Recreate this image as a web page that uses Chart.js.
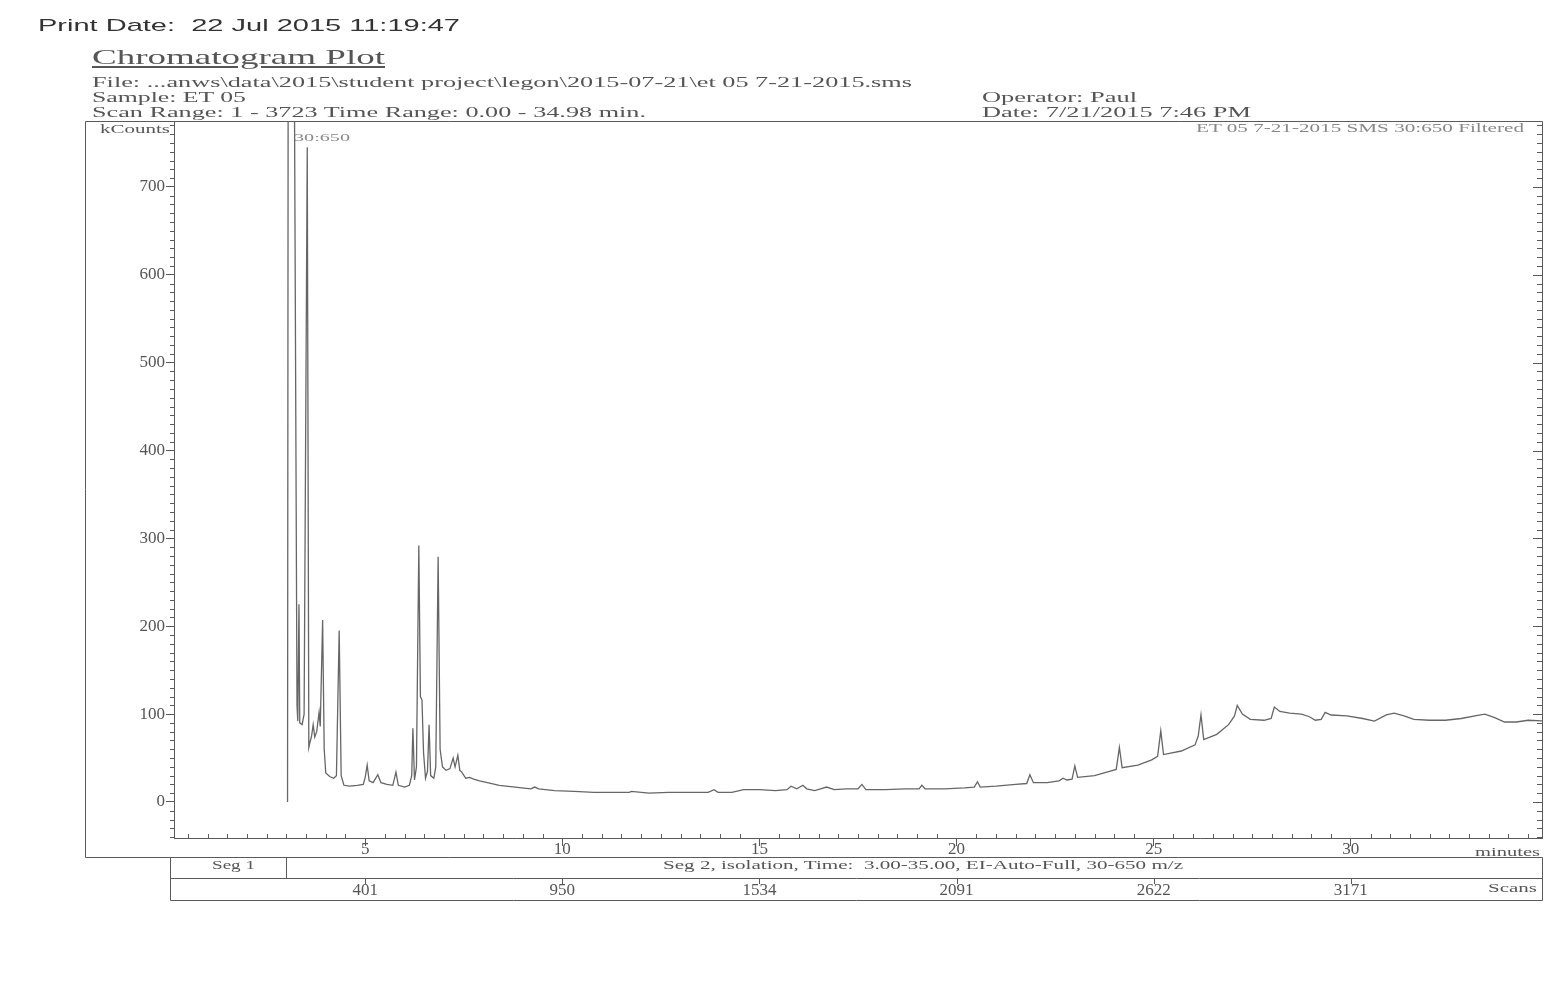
<!DOCTYPE html>
<html>
<head>
<meta charset="utf-8">
<title>Chromatogram Plot</title>
<script src="https://cdn.jsdelivr.net/npm/chart.js@4.4.1/dist/chart.umd.min.js"></script>
<style>
  html, body { margin: 0; padding: 0; background: #fff; }
  #wrap { position: relative; width: 1549px; height: 989px; overflow: hidden; }
  #chromCanvas { position: absolute; left: 0; top: 0; }
  .t { position: absolute; white-space: nowrap; line-height: 1; transform-origin: 0 50%;
       color: #555; font-family: 'Liberation Serif', 'Times New Roman', serif; }
</style>
</head>
<body>
<div id="wrap">
  <canvas id="chromCanvas" width="1549" height="989"></canvas>

  <div class="t" data-w="422" style="left:38px;top:17px;font-size:17px;color:#333;font-family:'Liberation Sans',Arial,sans-serif;">Print Date:&nbsp; 22 Jul 2015 11:19:47</div>
  <div class="t" data-w="293" style="left:92px;top:47px;font-size:21px;text-decoration:underline;">Chromatogram Plot</div>
  <div class="t" data-w="820" style="left:92px;top:75px;font-size:15px;">File: ...anws\data\2015\student project\legon\2015-07-21\et 05 7-21-2015.sms</div>
  <div class="t" data-w="154" style="left:92px;top:90px;font-size:15px;">Sample: ET 05</div>
  <div class="t" data-w="554" style="left:92px;top:105px;font-size:15px;">Scan Range: 1 - 3723 Time Range: 0.00 - 34.98 min.</div>
  <div class="t" data-w="155" style="left:982px;top:90px;font-size:15px;">Operator: Paul</div>
  <div class="t" data-w="269" style="left:982px;top:105px;font-size:15px;">Date: 7/21/2015 7:46 PM</div>

  <div class="t" data-w="328" style="left:1196px;top:122px;font-size:12px;color:#888;">ET 05 7-21-2015 SMS 30:650 Filtered</div>
  <div class="t" data-w="70" style="left:100px;top:123px;font-size:12px;">kCounts</div>
  <div class="t" data-w="56" style="left:294px;top:132px;font-size:11px;color:#888;">30:650</div>
  <div class="t" data-w="65" style="left:1475px;top:845px;font-size:13px;">minutes</div>
  <div class="t" data-w="43" style="left:212px;top:859px;font-size:12px;">Seg 1</div>
  <div class="t" data-w="520" style="left:663px;top:859px;font-size:12px;">Seg 2, isolation, Time:&nbsp; 3.00-35.00, EI-Auto-Full, 30-650 m/z</div>
  <div class="t" data-w="49" style="left:1488px;top:881px;font-size:13px;">Scans</div>
</div>

<script>
// Retention time (minutes) and signal (kCounts)
const retentionMin = [
  3.03, 3.06, 3.15, 3.27, 3.29, 3.32, 3.34, 3.40, 3.45, 3.53,
  3.57, 3.60, 3.64, 3.68, 3.72, 3.77, 3.83, 3.86, 3.92, 3.96,
  4.00, 4.10, 4.20, 4.27, 4.34, 4.39, 4.46, 4.60, 4.80, 4.95,
  5.00, 5.05, 5.10, 5.20, 5.32, 5.40, 5.55, 5.70, 5.78, 5.84,
  6.00, 6.12, 6.18, 6.21, 6.25, 6.30, 6.36, 6.40, 6.44, 6.48,
  6.53, 6.58, 6.62, 6.66, 6.74, 6.79, 6.85, 6.90, 6.96, 7.05,
  7.15, 7.23, 7.28, 7.35, 7.40, 7.45, 7.55, 7.65, 7.75, 7.90,
  8.10, 8.40, 8.80, 9.20, 9.30, 9.40, 9.80, 10.3, 10.8, 11.3,
  11.7, 11.75, 12.2, 12.7, 13.2, 13.7, 13.85, 13.95, 14.3, 14.6,
  15.0, 15.4, 15.7, 15.8, 15.95, 16.1, 16.2, 16.4, 16.55, 16.7,
  16.9, 17.2, 17.5, 17.6, 17.7, 18.2, 18.7, 19.05, 19.12, 19.2,
  19.7, 20.2, 20.45, 20.53, 20.6, 21.0, 21.5, 21.78, 21.86, 21.95,
  22.3, 22.6, 22.7, 22.8, 22.93, 23.0, 23.07, 23.5, 23.9, 24.05,
  24.13, 24.2, 24.6, 24.95, 25.1, 25.18, 25.25, 25.7, 26.05, 26.13,
  26.2, 26.27, 26.6, 26.9, 27.05, 27.12, 27.25, 27.45, 27.8, 27.98,
  28.06, 28.2, 28.45, 28.75, 28.95, 29.1, 29.25, 29.35, 29.5, 29.9,
  30.3, 30.6, 30.9, 31.1, 31.35, 31.6, 32.0, 32.4, 32.8, 33.15,
  33.4, 33.65, 33.9, 34.2, 34.5, 34.98
];
const kCounts = [
  0, 1600, 1400, 110, 92, 225, 90, 88, 100, 745,
  62, 68, 75, 88, 74, 80, 102, 86, 207, 60,
  33, 29, 27, 30, 195, 30, 19, 18, 19, 20,
  28, 42, 24, 22, 31, 22, 20, 19, 34, 19,
  17, 19, 30, 84, 25, 40, 292, 120, 116, 56,
  27, 35, 88, 30, 27, 40, 279, 60, 40, 36,
  38, 50, 40, 53, 36, 34, 27, 28, 26, 24,
  22, 19, 17, 15, 17, 15, 13, 12, 11, 11,
  11, 12, 10, 11, 11, 11, 14, 11, 11, 14,
  14, 13, 14, 18, 15, 19, 15, 13, 15, 17,
  14, 15, 15, 20, 14, 14, 15, 15, 19, 15,
  15, 16, 17, 23, 17, 18, 20, 21, 31, 22,
  22, 24, 27, 25, 26, 41, 28, 30, 35, 37,
  62, 39, 42, 48, 52, 81, 54, 58, 65, 75,
  99, 71, 77, 88, 98, 110, 100, 94, 93, 95,
  108, 103, 101, 100, 97, 93, 94, 102, 99, 98,
  95, 92, 99, 101, 98, 94, 93, 93, 95, 98,
  100, 96, 91, 91, 93, 92
];

// Axis tick labels
const scanLabels = ['401', '950', '1534', '2091', '2622', '3171'];
const timeRange = [0.15, 34.85];
const countRange = [-41, 775];

const frameColor = '#5a5a5a';

// Frame, minor ticks and segment boxes drawn around the plot
const framePlugin = {
  id: 'framePlugin',
  afterDraw(chart) {
    const { ctx, chartArea: a, scales: { x, y } } = chart;
    const outerLeft = a.left - 89;
    const outerBottom = a.bottom + 19;
    const segBottom = outerBottom + 21;
    const scansBottom = segBottom + 22;
    const rowLeft = a.left - 4;
    const h = v => Math.round(v) + 0.5;

    ctx.save();
    ctx.strokeStyle = frameColor;
    ctx.lineWidth = 1;
    ctx.beginPath();
    // outer box
    ctx.moveTo(h(outerLeft), h(a.top)); ctx.lineTo(h(a.right), h(a.top));
    ctx.moveTo(h(outerLeft), h(a.top)); ctx.lineTo(h(outerLeft), h(outerBottom));
    ctx.moveTo(h(outerLeft), h(outerBottom)); ctx.lineTo(h(a.right), h(outerBottom));
    ctx.moveTo(h(a.right), h(a.top)); ctx.lineTo(h(a.right), h(a.bottom));
    // seg + scans rows
    ctx.moveTo(h(rowLeft), h(outerBottom)); ctx.lineTo(h(rowLeft), h(scansBottom));
    ctx.moveTo(h(a.right), h(outerBottom)); ctx.lineTo(h(a.right), h(scansBottom));
    ctx.moveTo(h(rowLeft), h(segBottom)); ctx.lineTo(h(a.right), h(segBottom));
    ctx.moveTo(h(rowLeft), h(scansBottom)); ctx.lineTo(h(a.right), h(scansBottom));
    const segX = h(x.getPixelForValue(3.0));
    ctx.moveTo(segX, h(outerBottom)); ctx.lineTo(segX, h(segBottom));

    // y minor ticks (left) and all ticks (right)
    for (let v = -40; v <= 770; v += 10) {
      const py = h(y.getPixelForValue(v));
      const major = v % 100 === 0;
      if (!major) { ctx.moveTo(a.left - 4, py); ctx.lineTo(a.left, py); }
      ctx.moveTo(a.right - (major ? 9 : 5), py); ctx.lineTo(a.right, py);
    }
    // x minor ticks every half minute
    for (let k = 1; k * 0.5 < timeRange[1]; k++) {
      const t = k * 0.5;
      if (t % 5 === 0) continue;
      const px = h(x.getPixelForValue(t));
      ctx.moveTo(px, a.bottom - 4); ctx.lineTo(px, a.bottom + 1);
    }
    // scan label ticks
    for (let i = 0; i < scanLabels.length; i++) {
      const px = h(x.getPixelForValue((i + 1) * 5));
      ctx.moveTo(px, segBottom); ctx.lineTo(px, segBottom + 6);
    }
    ctx.stroke();
    ctx.restore();
  }
};

function buildChart() {
  const ctx = document.getElementById('chromCanvas').getContext('2d');
  const points = retentionMin.map((t, i) => ({ x: t, y: kCounts[i] }));
  const tickFont = { family: "'Liberation Serif', 'Times New Roman', serif", size: 17 };

  new Chart(ctx, {
    type: 'line',
    data: {
      datasets: [{
        label: 'ET 05 TIC',
        data: points,
        borderColor: '#666',
        borderWidth: 1.3,
        pointRadius: 0,
        tension: 0,
        fill: false
      }]
    },
    options: {
      responsive: false,
      animation: false,
      devicePixelRatio: 1,
      layout: { padding: { left: 85, top: 121, right: 7, bottom: 89 } },
      plugins: { legend: { display: false }, tooltip: { enabled: false } },
      scales: {
        x: {
          type: 'linear',
          position: 'bottom',
          weight: 0,
          min: timeRange[0],
          max: timeRange[1],
          afterFit: s => { s.height = 19; },
          grid: { drawOnChartArea: false, color: frameColor, tickLength: 8 },
          border: { color: frameColor },
          ticks: {
            stepSize: 5,
            includeBounds: false,
            padding: -7,
            maxRotation: 0,
            color: '#555',
            font: tickFont,
            callback: v => (v % 5 === 0 ? String(v) : '')
          }
        },
        x2: {
          type: 'linear',
          position: 'bottom',
          weight: 1,
          min: timeRange[0],
          max: timeRange[1],
          afterFit: s => { s.height = 43; },
          grid: { display: false, drawTicks: false },
          border: { display: false },
          ticks: {
            stepSize: 5,
            includeBounds: false,
            padding: 23,
            maxRotation: 0,
            color: '#555',
            font: tickFont,
            callback: v => (v % 5 === 0 ? (scanLabels[v / 5 - 1] || '') : '')
          }
        },
        y: {
          type: 'linear',
          min: countRange[0],
          max: countRange[1],
          afterFit: s => { s.width = 89; },
          grid: { drawOnChartArea: false, color: frameColor, tickLength: 8 },
          border: { color: frameColor },
          ticks: {
            stepSize: 100,
            includeBounds: false,
            padding: 1,
            color: '#555',
            font: tickFont,
            callback: v => (v % 100 === 0 ? String(v) : '')
          }
        }
      }
    },
    plugins: [framePlugin]
  });
}

// Stretch the printed text to the widths seen on the scan
function fitTexts() {
  document.querySelectorAll('.t[data-w]').forEach(el => {
    const w = el.getBoundingClientRect().width;
    const target = Number(el.dataset.w);
    if (w > 0) el.style.transform = `scaleX(${target / w})`;
  });
}

document.addEventListener('DOMContentLoaded', () => {
  fitTexts();
  buildChart();
});
</script>
</body>
</html>
